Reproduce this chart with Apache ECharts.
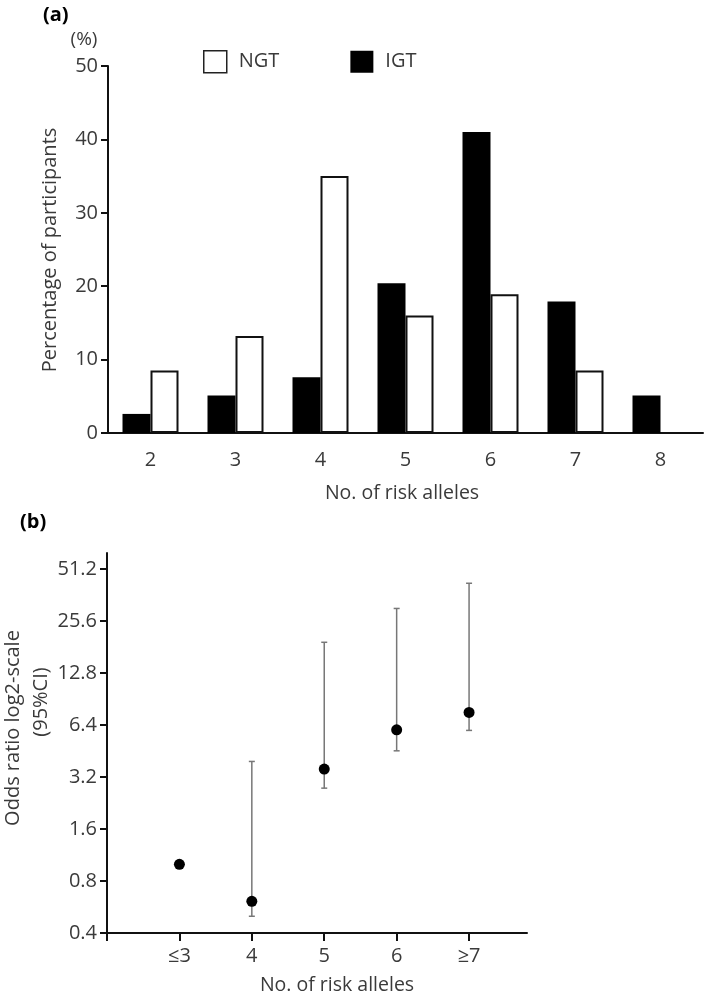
<!DOCTYPE html>
<html>
<head>
<meta charset="utf-8">
<script src="https://cdn.jsdelivr.net/npm/echarts@6/dist/echarts.min.js"></script>
<style>
html,body{margin:0;padding:0;background:#fff;}
#c{width:709px;height:1000px;}
</style>
</head>
<body>
<div id="c"></div>
<script>
// Panel (a): distribution of risk alleles
var alleleCats = ['2', '3', '4', '5', '6', '7', '8'];
var igtPct = [2.6, 5.1, 7.6, 20.4, 41.0, 17.9, 5.1];
var ngtPct = [8.5, 13.2, 35.0, 16.0, 18.9, 8.5, null];

// Panel (b): odds ratios (log2 scale)
var orCats = ['\u22643', '4', '5', '6', '\u22657'];
var orPos = [3, 4, 5, 6, 7];
var orVal = [1.0, 0.61, 3.56, 6.01, 7.57];
var orLow = [null, 0.50, 2.76, 4.54, 5.96];
var orHigh = [null, 3.94, 19.3, 30.3, 42.4];
var orTicks = ['0.4', '0.8', '1.6', '3.2', '6.4', '12.8', '25.6', '51.2'];
var orBase = 0.4;

function lg(v) { return Math.log2(v / orBase); }

var FONT = 'Open Sans';
var TXT = '#3a3a3a';

var pointData = orPos.map(function (x, i) { return [x, lg(orVal[i])]; });
var ciData = [];
orPos.forEach(function (x, i) {
  if (orLow[i] != null) ciData.push([x, lg(orLow[i]), lg(orHigh[i])]);
});

var chart = echarts.init(document.getElementById('c'), null, {renderer: 'canvas'});
chart.setOption({
  backgroundColor: '#fff',
  animation: false,
  textStyle: {fontFamily: FONT},
  legend: {
    left: 198, top: 45,
    itemWidth: 23, itemHeight: 22, itemGap: 71,
    selectedMode: false,
    icon: 'rect',
    textStyle: {fontFamily: FONT, fontSize: 20, color: TXT, padding: [0, 0, 0, 7]},
    data: [
      {name: 'NGT', itemStyle: {color: '#fff', borderColor: '#222', borderWidth: 1.5}},
      {name: 'IGT', itemStyle: {color: '#000', borderColor: '#000', borderWidth: 0}}
    ]
  },
  grid: [
    {left: 108, top: 66, width: 595, height: 367},
    {left: 107, top: 553, width: 420, height: 380}
  ],
  xAxis: [
    {
      gridIndex: 0, type: 'category', data: alleleCats,
      axisLine: {lineStyle: {color: '#111', width: 2}},
      axisTick: {length: 8, lineStyle: {color: '#111', width: 2}},
      axisLabel: {fontFamily: FONT, fontSize: 20, color: TXT, margin: 17},
      splitLine: {show: false}
    },
    {
      gridIndex: 1, type: 'value', min: 2, max: 7.8,
      axisLine: {lineStyle: {color: '#111', width: 2}},
      axisTick: {length: 8, lineStyle: {color: '#111', width: 2}, customValues: [2, 3, 4, 5, 6, 7]},
      axisLabel: {
        fontFamily: FONT, fontSize: 20, color: TXT, margin: 13,
        customValues: orPos,
        formatter: function (v) { var i = orPos.indexOf(v); return i >= 0 ? orCats[i] : ''; }
      },
      splitLine: {show: false}
    }
  ],
  yAxis: [
    {
      gridIndex: 0, type: 'value', min: 0, max: 50, interval: 10,
      axisLine: {show: true, lineStyle: {color: '#111', width: 2}},
      axisTick: {show: true, length: 7, lineStyle: {color: '#111', width: 2}},
      axisLabel: {fontFamily: FONT, fontSize: 20, color: TXT, margin: 10},
      splitLine: {show: false}
    },
    {
      gridIndex: 1, type: 'value', min: 0, max: 7.31,
      axisLine: {show: true, lineStyle: {color: '#111', width: 2}},
      axisTick: {show: true, length: 7, lineStyle: {color: '#111', width: 2}, customValues: [0, 1, 2, 3, 4, 5, 6, 7]},
      axisLabel: {
        fontFamily: FONT, fontSize: 20, color: TXT, margin: 10,
        customValues: [0, 1, 2, 3, 4, 5, 6, 7],
        formatter: function (v) { return orTicks[Math.round(v)]; }
      },
      splitLine: {show: false}
    }
  ],
  series: [
    {
      name: 'IGT', type: 'bar', xAxisIndex: 0, yAxisIndex: 0,
      data: igtPct, barWidth: 28, barGap: '0%',
      itemStyle: {color: '#000', borderColor: '#000', borderWidth: 0}
    },
    {
      name: 'NGT', type: 'bar', xAxisIndex: 0, yAxisIndex: 0,
      data: ngtPct, barWidth: 28, barGap: '0%',
      itemStyle: {color: '#fff', borderColor: '#111', borderWidth: 2}
    },
    {
      name: 'CI', type: 'custom', xAxisIndex: 1, yAxisIndex: 1,
      data: ciData,
      renderItem: function (params, api) {
        var x = api.value(0);
        var lo = api.coord([x, api.value(1)]);
        var hi = api.coord([x, api.value(2)]);
        var cap = 3;
        var st = {stroke: '#777', lineWidth: 1.5};
        return {
          type: 'group',
          children: [
            {type: 'line', shape: {x1: lo[0], y1: lo[1], x2: hi[0], y2: hi[1]}, style: st},
            {type: 'line', shape: {x1: lo[0] - cap, y1: lo[1], x2: lo[0] + cap, y2: lo[1]}, style: st},
            {type: 'line', shape: {x1: hi[0] - cap, y1: hi[1], x2: hi[0] + cap, y2: hi[1]}, style: st}
          ]
        };
      },
      z: 2
    },
    {
      name: 'OR', type: 'scatter', xAxisIndex: 1, yAxisIndex: 1,
      data: pointData, symbol: 'circle', symbolSize: 11,
      itemStyle: {color: '#000', opacity: 1}, z: 3
    }
  ],
  graphic: [
    {type: 'text', left: 43, top: 5, style: {text: '(a)', font: 'bold 20px "Open Sans"', fill: '#000'}},
    {type: 'text', x: 84, y: 40, style: {text: '(%)', font: '19px "Open Sans"', fill: TXT, textAlign: 'center', textVerticalAlign: 'middle'}},
    {type: 'text', x: 50, y: 250, rotation: Math.PI / 2, style: {text: 'Percentage of participants', font: '20px "Open Sans"', fill: TXT, textAlign: 'center', textVerticalAlign: 'middle'}},
    {type: 'text', x: 402, y: 493, style: {text: 'No. of risk alleles', font: '19.5px "Open Sans"', fill: TXT, textAlign: 'center', textVerticalAlign: 'middle'}},
    {type: 'text', left: 20, top: 512, style: {text: '(b)', font: 'bold 20px "Open Sans"', fill: '#000'}},
    {type: 'text', x: 13, y: 728, rotation: Math.PI / 2, style: {text: 'Odds ratio log2-scale', font: '20px "Open Sans"', fill: TXT, textAlign: 'center', textVerticalAlign: 'middle'}},
    {type: 'text', x: 41, y: 702, rotation: Math.PI / 2, style: {text: '(95%CI)', font: '20px "Open Sans"', fill: TXT, textAlign: 'center', textVerticalAlign: 'middle'}},
    {type: 'text', x: 337, y: 985, style: {text: 'No. of risk alleles', font: '19.5px "Open Sans"', fill: TXT, textAlign: 'center', textVerticalAlign: 'middle'}}
  ]
});
</script>
</body>
</html>
